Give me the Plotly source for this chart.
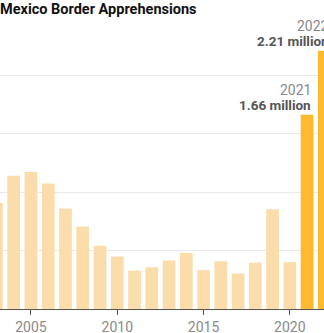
import plotly.graph_objects as go

years = list(range(2003, 2023))
apprehensions = [905065, 1139282, 1171396, 1071972, 858638, 705005, 540865,
                 447731, 327577, 356873, 414397, 479371, 331333, 408870,
                 303916, 396579, 851508, 400651, 1659206, 2206436]
highlight_years = [2021, 2022]
label_values = ["1.66 million", "2.21 million"]
title_text = "Mexico Border Apprehensions"
tick_years = [2005, 2010, 2015, 2020]
grid_vals = [500000, 1000000, 1500000, 2000000]

LIGHT = "#FBDDAC"
BRIGHT = "#FDBA2F"
colors = [BRIGHT if y in highlight_years else LIGHT for y in years]

W, H = 324, 333
x_range = [2003.205, 2021.98]
y_range = [0, 2641000]
bar_width = 0.74

fig = go.Figure(go.Bar(x=years, y=apprehensions, marker=dict(color=colors, line=dict(width=0)),
                       width=bar_width, hoverinfo="skip"))

def to_paper(x):
    return (x - x_range[0]) / (x_range[1] - x_range[0])

ann = []
for yr, lab in zip(highlight_years, label_values):
    v = apprehensions[years.index(yr)]
    xp = to_paper(yr + bar_width / 2)
    ann.append(dict(x=xp, xref="paper", y=v, yref="y", xanchor="right", yanchor="bottom",
                    text="<b>" + lab + "</b>", showarrow=False, yshift=0,
                    font=dict(family="Roboto", size=13.5, color="#555555"), align="right"))
    ann.append(dict(x=xp, xref="paper", y=v, yref="y", xanchor="right", yanchor="bottom",
                    text=str(yr), showarrow=False, yshift=15,
                    font=dict(family="Roboto", size=14, color="#8a8a8a"), align="right"))
ann.append(dict(x=0, xref="paper", y=1, yref="paper", xanchor="left", yanchor="top",
                text="<b>" + title_text + "</b>", showarrow=False, yshift=1, xshift=-2,
                font=dict(family="Roboto", size=14.5, color="#121212")))

fig.update_layout(
    width=W, height=H, margin=dict(l=0, r=0, t=0, b=24),
    paper_bgcolor="white", plot_bgcolor="white", showlegend=False,
    annotations=ann,
    xaxis=dict(range=x_range, tickvals=tick_years, ticks="outside", ticklen=5, tickcolor="#555555",
               showline=True, linecolor="#555555", linewidth=1, showgrid=False, zeroline=False,
               tickfont=dict(family="Roboto", size=14, color="#8a8a8a"), automargin=False,
               fixedrange=True),
    yaxis=dict(range=y_range, tickvals=grid_vals, showticklabels=False, showgrid=True,
               gridcolor="#e8e8e8", gridwidth=1, zeroline=False, automargin=False, fixedrange=True),
)
fig.write_html("out.html", config={"displayModeBar": False})
